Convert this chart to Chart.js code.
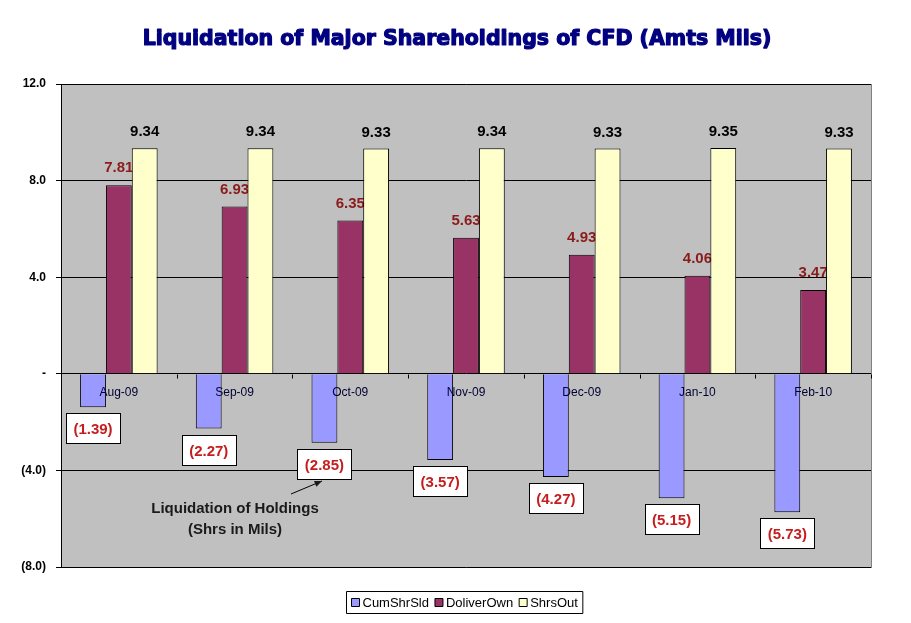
<!DOCTYPE html>
<html>
<head>
<meta charset="utf-8">
<script src="https://cdn.jsdelivr.net/npm/chart.js@4/dist/chart.umd.min.js"></script>
<style>
  html, body { margin: 0; padding: 0; background: #fff; }
  #wrap { width: 911px; height: 623px; }
</style>
</head>
<body>
<div id="wrap"><canvas id="barChart" width="911" height="623"></canvas></div>
<script>
// data
const months = ['Aug-09', 'Sep-09', 'Oct-09', 'Nov-09', 'Dec-09', 'Jan-10', 'Feb-10'];
const cumShrSld = [-1.39, -2.27, -2.85, -3.57, -4.27, -5.15, -5.73];
const doliverOwn = [7.81, 6.93, 6.35, 5.63, 4.93, 4.06, 3.47];
const shrsOut = [9.34, 9.34, 9.33, 9.34, 9.33, 9.35, 9.33];
const seriesNames = ['CumShrSld', 'DoliverOwn', 'ShrsOut'];
const seriesColors = ['#9999FF', '#993366', '#FFFFCC'];

const FONT = 'Arial, "Liberation Sans", sans-serif';

function fmtNum(v) {
  return v < 0 ? '(' + Math.abs(v).toFixed(2) + ')' : v.toFixed(2);
}

// background of the plot area
const plotBg = {
  id: 'plotBg',
  beforeDraw(chart) {
    const { ctx, chartArea: a } = chart;
    ctx.save();
    ctx.fillStyle = '#C0C0C0';
    ctx.fillRect(a.left, a.top, a.right - a.left, a.bottom - a.top);
    ctx.strokeStyle = '#808080';
    ctx.lineWidth = 1;
    ctx.strokeRect(a.left + 0.5, a.top + 0.5, a.right - a.left, a.bottom - a.top);
    ctx.restore();
  },
  // purple labels go under the yellow bars, like the original
  beforeDatasetsDraw(chart) {
    const { ctx, scales } = chart;
    const zeroY = Math.round(scales.y.getPixelForValue(0)) + 0.5;
    ctx.save();
    // small category ticks on the zero line
    ctx.strokeStyle = '#000000';
    ctx.lineWidth = 1;
    ctx.beginPath();
    for (let i = 0; i <= months.length; i++) {
      const x = Math.round(scales.x.getPixelForValue(i - 0.5)) + 0.5;
      ctx.moveTo(x, zeroY);
      ctx.lineTo(x, zeroY + 4);
    }
    ctx.stroke();

    const meta = chart.getDatasetMeta(1);
    ctx.font = 'bold 15px ' + FONT;
    ctx.fillStyle = '#8B1A1A';
    ctx.textAlign = 'center';
    ctx.textBaseline = 'middle';
    meta.data.forEach((bar, i) => {
      ctx.fillText(fmtNum(doliverOwn[i]), bar.x, bar.y - 17);
    });
    ctx.restore();
  }
};

const labelsPlugin = {
  id: 'labelsPlugin',
  afterDatasetsDraw(chart) {
    const { ctx, scales } = chart;
    const zeroY = scales.y.getPixelForValue(0);
    ctx.save();

    // month labels sit next to the zero line
    ctx.font = '12px ' + FONT;
    ctx.fillStyle = '#000033';
    ctx.textAlign = 'center';
    ctx.textBaseline = 'middle';
    months.forEach((m, i) => {
      ctx.fillText(m, scales.x.getPixelForValue(i), zeroY + 19);
    });

    // yellow bar labels
    ctx.font = 'bold 15px ' + FONT;
    ctx.fillStyle = '#000000';
    chart.getDatasetMeta(2).data.forEach((bar, i) => {
      ctx.fillText(fmtNum(shrsOut[i]), bar.x, bar.y - 16);
    });

    // blue bar labels in white boxes
    chart.getDatasetMeta(0).data.forEach((bar, i) => {
      const w = 54, h = 30;
      const bx = Math.round(bar.x - w / 2) + 0.5;
      const by = Math.round(bar.y + 6) + 0.5;
      ctx.fillStyle = '#FFFFFF';
      ctx.fillRect(bx, by, w, h);
      ctx.strokeStyle = '#000000';
      ctx.lineWidth = 1;
      ctx.strokeRect(bx, by, w, h);
      ctx.fillStyle = '#C41E1E';
      ctx.fillText(fmtNum(cumShrSld[i]), bar.x, by + h / 2 + 1);
    });

    // note with arrow
    ctx.font = 'bold 15px ' + FONT;
    ctx.fillStyle = '#1a1a1a';
    ctx.fillText('Liquidation of Holdings', 235, 509);
    ctx.fillText('(Shrs in Mils)', 235, 530);
    const x1 = 291, y1 = 494, x2 = 322, y2 = 481;
    ctx.strokeStyle = '#000000';
    ctx.lineWidth = 1;
    ctx.beginPath();
    ctx.moveTo(x1, y1);
    ctx.lineTo(x2, y2);
    ctx.stroke();
    const ang = Math.atan2(y2 - y1, x2 - x1);
    ctx.beginPath();
    ctx.moveTo(x2, y2);
    ctx.lineTo(x2 - 8 * Math.cos(ang - 0.4), y2 - 8 * Math.sin(ang - 0.4));
    ctx.lineTo(x2 - 8 * Math.cos(ang + 0.4), y2 - 8 * Math.sin(ang + 0.4));
    ctx.closePath();
    ctx.fill();

    // title, heavy face
    ctx.font = 'bold 20.5px "DejaVu Sans", sans-serif';
    ctx.fillStyle = '#000080';
    ctx.strokeStyle = '#000080';
    ctx.lineWidth = 1.2;
    ctx.lineJoin = 'round';
    ctx.strokeText('Liquidation of Major Shareholdings of CFD (Amts Mils)', 457, 40);
    ctx.fillText('Liquidation of Major Shareholdings of CFD (Amts Mils)', 457, 40);
    ctx.lineWidth = 1;

    // legend with a border
    ctx.font = '13px ' + FONT;
    ctx.textAlign = 'left';
    const box = 8, gap = 3, itemGap = 6, padX = 5;
    let total = padX * 2;
    seriesNames.forEach((n, i) => {
      total += box + gap + ctx.measureText(n).width + (i < seriesNames.length - 1 ? itemGap : 0);
    });
    let lx = Math.round(464 - total / 2) + 0.5;
    const ly = 591.5, lh = 22;
    ctx.strokeStyle = '#000000';
    ctx.strokeRect(lx, ly, total, lh);
    let cx = lx + padX;
    seriesNames.forEach((n, i) => {
      ctx.fillStyle = seriesColors[i];
      ctx.fillRect(cx, 598.5, box, box);
      ctx.strokeRect(cx, 598.5, box, box);
      cx += box + gap;
      ctx.fillStyle = '#000000';
      ctx.fillText(n, cx, 603);
      cx += ctx.measureText(n).width + itemGap;
    });

    ctx.restore();
  }
};

const ctxBar = document.getElementById('barChart').getContext('2d');
const barChart = new Chart(ctxBar, {
  type: 'bar',
  data: {
    labels: months,
    datasets: [
      { label: seriesNames[0], data: cumShrSld, backgroundColor: seriesColors[0] },
      { label: seriesNames[1], data: doliverOwn, backgroundColor: seriesColors[1] },
      { label: seriesNames[2], data: shrsOut, backgroundColor: seriesColors[2] }
    ]
  },
  options: {
    responsive: false,
    animation: false,
    layout: { padding: { left: 0, right: 40, top: 84, bottom: 56 } },
    datasets: {
      bar: {
        borderColor: '#000000',
        borderWidth: 1,
        categoryPercentage: 0.67,
        barPercentage: 1.0
      }
    },
    plugins: {
      legend: { display: false },
      title: { display: false },
      tooltip: { enabled: false }
    },
    scales: {
      x: { display: false },
      y: {
        min: -8,
        max: 12,
        afterFit(scale) { scale.width = 61; },
        border: { color: '#000000', width: 1 },
        grid: { color: '#000000', tickLength: 5, tickColor: '#000000' },
        ticks: {
          stepSize: 4,
          padding: 10,
          color: '#000000',
          font: { family: FONT, size: 12, weight: 'bold' },
          callback(v) {
            if (v === 0) return '-';
            if (v < 0) return '(' + Math.abs(v).toFixed(1) + ')';
            return v.toFixed(1);
          }
        }
      }
    }
  },
  plugins: [plotBg, labelsPlugin]
});
</script>
</body>
</html>
